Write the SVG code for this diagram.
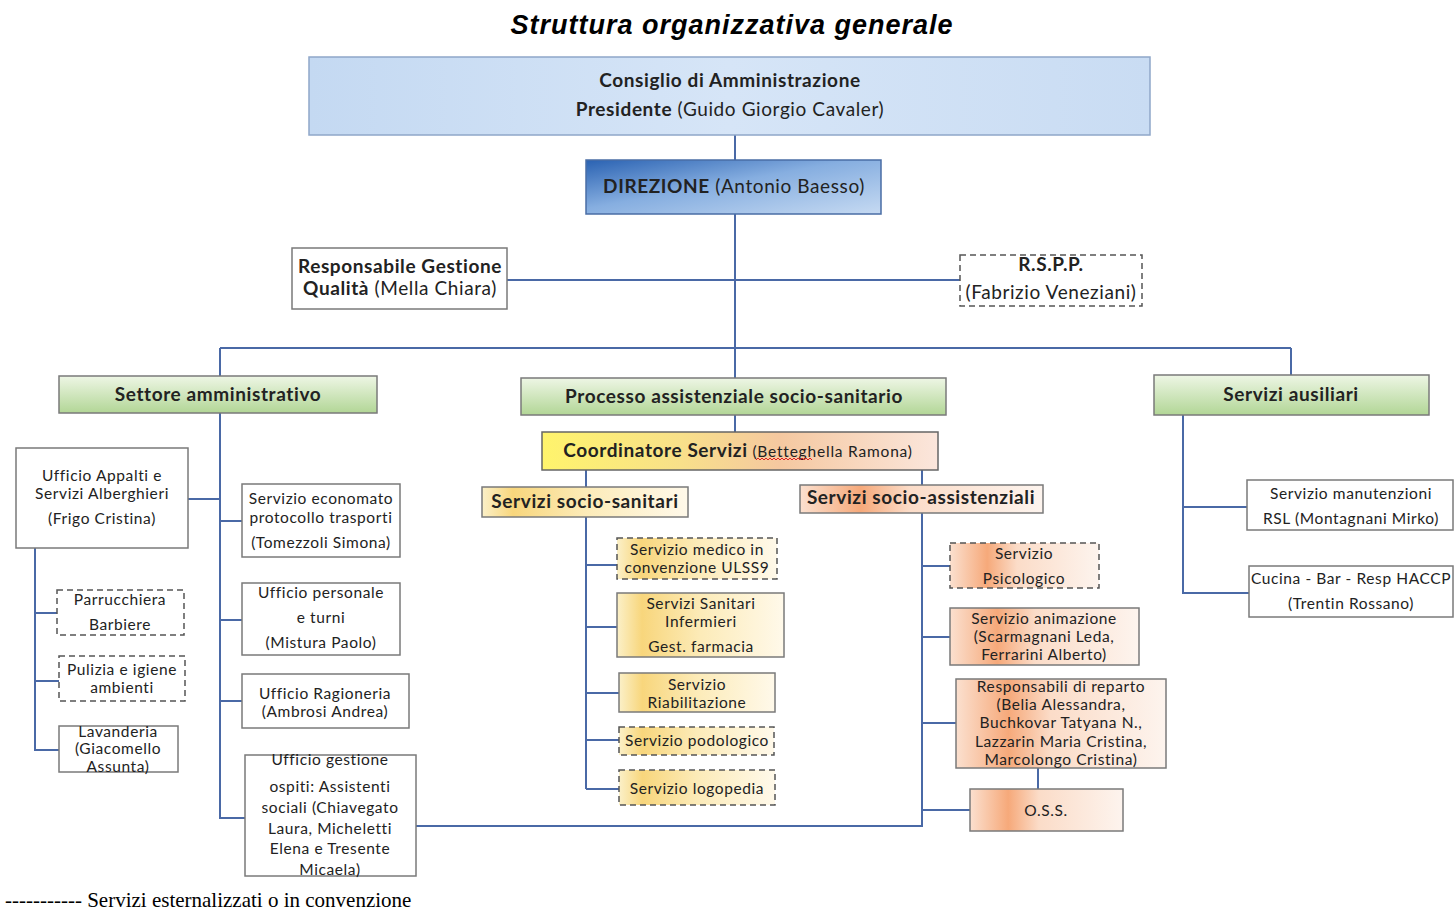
<svg xmlns="http://www.w3.org/2000/svg" width="1454" height="913" viewBox="0 0 1454 913">
<defs>
<linearGradient id="gCons" x1="0" y1="0" x2="1" y2="0"><stop offset="0" stop-color="#c4d9f2"/><stop offset="0.5" stop-color="#d6e5f7"/><stop offset="1" stop-color="#c9dcf3"/></linearGradient>
<linearGradient id="gDir" x1="0" y1="0" x2="1" y2="1"><stop offset="0" stop-color="#2a62b2"/><stop offset="0.45" stop-color="#86aee0"/><stop offset="1" stop-color="#c6daf2"/></linearGradient>
<linearGradient id="gGreen" x1="0" y1="0" x2="0" y2="1"><stop offset="0" stop-color="#eef6e5"/><stop offset="1" stop-color="#b2d696"/></linearGradient>
<linearGradient id="gCoord" x1="0" y1="0" x2="1" y2="0"><stop offset="0" stop-color="#fff46c"/><stop offset="0.35" stop-color="#f8e08a"/><stop offset="0.6" stop-color="#f5c8a0"/><stop offset="1" stop-color="#fbe6dc"/></linearGradient>
<linearGradient id="gYel" x1="0" y1="0" x2="1" y2="0"><stop offset="0" stop-color="#fbf0c8"/><stop offset="0.15" stop-color="#f8d67c"/><stop offset="0.5" stop-color="#fcebb8"/><stop offset="1" stop-color="#fff9ea"/></linearGradient>
<linearGradient id="gOra" x1="0" y1="0" x2="1" y2="0"><stop offset="0" stop-color="#fbe0cf"/><stop offset="0.25" stop-color="#f6a97a"/><stop offset="0.45" stop-color="#fbdcc8"/><stop offset="1" stop-color="#fdf4ee"/></linearGradient>
</defs>
<style>
.t{font-family:Lato,"Liberation Sans",sans-serif;fill:#222;text-anchor:middle}
.h{font-size:19px;font-weight:bold;letter-spacing:0.6px}
.n{font-size:19px;letter-spacing:0.6px}
.s{font-size:15.5px;letter-spacing:0.6px}
.b{font-weight:bold}
.box{stroke:#7a7a7a;stroke-width:1.5;fill:#fff}
.dash{stroke:#555;stroke-width:1.5;stroke-dasharray:6 4}
.c{stroke:#4a69a6;stroke-width:2;fill:none}
</style>
<rect width="1454" height="913" fill="#fff"/>
<text x="732" y="34" font-family="Liberation Sans,sans-serif" font-size="27" font-weight="bold" font-style="italic" letter-spacing="1" text-anchor="middle" fill="#000">Struttura organizzativa generale</text>

<g id="connectors">
<path class="c" d="M735 135V160M735 214V378M507 280H960M220 348H1291M220 348V376M1291 348V375M735 415V432"/>
<path class="c" d="M586 470V789M586 565H617M586 627H617M586 693H619M586 740H619M586 789H619"/>
<path class="c" d="M922 470V826H416M922 566H950M922 637H950M922 723H956M922 810H970M1038 768V789"/>
<path class="c" d="M1183 415V593H1249M1183 507H1247"/>
<path class="c" d="M220 413V818H245M188 499H220M220 521H242M220 620H242M220 701H242"/>
<path class="c" d="M35 548V750H59M35 613H57M35 681H59"/>
</g>

<g id="consiglio"><rect x="309" y="57" width="841" height="78" fill="url(#gCons)" stroke="#8fa7c9" stroke-width="1.5"/>
<text class="t h" x="730" y="87">Consiglio di Amministrazione</text>
<text class="t n" x="730" y="116"><tspan class="b">Presidente</tspan> (Guido Giorgio Cavaler)</text></g>

<g id="direzione"><rect x="586" y="160" width="295" height="54" fill="url(#gDir)" stroke="#4a6da5" stroke-width="1.5"/>
<text class="t n" x="734" y="193" letter-spacing="0.2"><tspan class="b">DIREZIONE</tspan> (Antonio Baesso)</text></g>

<g id="qualita"><rect class="box" x="292" y="248" width="215" height="61"/>
<text class="t h" x="400" y="273">Responsabile Gestione</text>
<text class="t n" x="400" y="295"><tspan class="b">Qualità</tspan> (Mella Chiara)</text></g>

<g id="rspp"><rect class="box dash" x="960" y="255" width="182" height="51"/>
<text class="t h" x="1051" y="271">R.S.P.P.</text>
<text class="t n" x="1051" y="299">(Fabrizio Veneziani)</text></g>

<g id="settore"><rect x="59" y="376" width="318" height="37" fill="url(#gGreen)" stroke="#7a7a7a" stroke-width="1.5"/>
<text class="t h" x="218" y="401">Settore amministrativo</text></g>
<g id="processo"><rect x="521" y="378" width="425" height="37" fill="url(#gGreen)" stroke="#7a7a7a" stroke-width="1.5"/>
<text class="t h" x="734" y="403">Processo assistenziale socio-sanitario</text></g>
<g id="ausiliari"><rect x="1154" y="375" width="275" height="40" fill="url(#gGreen)" stroke="#7a7a7a" stroke-width="1.5"/>
<text class="t h" x="1291" y="401">Servizi ausiliari</text></g>

<g id="coordinatore"><rect x="542" y="432" width="396" height="38" fill="url(#gCoord)" stroke="#666" stroke-width="1.5"/>
<text class="t" x="738" y="457"><tspan class="h">Coordinatore Servizi</tspan><tspan font-size="15.5" letter-spacing="0.8"> (Betteghella Ramona)</tspan></text>
<path d="M756 460l2-2 2 2 2-2 2 2 2-2 2 2 2-2 2 2 2-2 2 2 2-2 2 2 2-2 2 2 2-2 2 2 2-2 2 2 2-2 2 2 2-2 2 2 2-2 2 2 2-2 2 2 2-2 2 2" stroke="#e02020" stroke-width="1" fill="none"/></g>

<g id="sociosanitari"><rect x="482" y="487" width="206" height="30" fill="url(#gYel)" stroke="#7a7a7a" stroke-width="1.5"/>
<text class="t h" x="585" y="508">Servizi  socio-sanitari</text></g>
<g id="medico"><rect class="dash" x="617" y="538" width="160" height="41" fill="url(#gYel)"/>
<text class="t s" x="697" y="555">Servizio medico in</text><text class="t s" x="697" y="573">convenzione ULSS9</text></g>
<g id="infermieri"><rect x="617" y="593" width="167" height="64" fill="url(#gYel)" stroke="#7a7a7a" stroke-width="1.5"/>
<text class="t s" x="701" y="609">Servizi Sanitari</text><text class="t s" x="701" y="627">Infermieri</text><text class="t s" x="701" y="652">Gest. farmacia</text></g>
<g id="riabilitazione"><rect x="619" y="673" width="156" height="39" fill="url(#gYel)" stroke="#7a7a7a" stroke-width="1.5"/>
<text class="t s" x="697" y="690">Servizio</text><text class="t s" x="697" y="708">Riabilitazione</text></g>
<g id="podologico"><rect class="dash" x="619" y="727" width="155" height="28" fill="url(#gYel)"/>
<text class="t s" x="697" y="746">Servizio podologico</text></g>
<g id="logopedia"><rect class="dash" x="619" y="770" width="156" height="35" fill="url(#gYel)"/>
<text class="t s" x="697" y="794">Servizio logopedia</text></g>

<g id="socioassistenziali"><rect x="800" y="485" width="243" height="28" fill="url(#gOra)" stroke="#7a7a7a" stroke-width="1.5"/>
<text class="t h" x="921" y="504">Servizi socio-assistenziali</text></g>
<g id="psicologico"><rect class="dash" x="950" y="543" width="149" height="45" fill="url(#gOra)"/>
<text class="t s" x="1024" y="559">Servizio</text><text class="t s" x="1024" y="584">Psicologico</text></g>
<g id="animazione"><rect x="950" y="608" width="189" height="57" fill="url(#gOra)" stroke="#7a7a7a" stroke-width="1.5"/>
<text class="t s" x="1044" y="624">Servizio animazione</text><text class="t s" x="1044" y="642">(Scarmagnani Leda,</text><text class="t s" x="1044" y="660">Ferrarini Alberto)</text></g>
<g id="reparto"><rect x="956" y="679" width="210" height="89" fill="url(#gOra)" stroke="#7a7a7a" stroke-width="1.5"/>
<text class="t s" x="1061" y="692">Responsabili di reparto</text><text class="t s" x="1061" y="710">(Belia Alessandra,</text><text class="t s" x="1061" y="728">Buchkovar Tatyana N.,</text><text class="t s" x="1061" y="747">Lazzarin Maria Cristina,</text><text class="t s" x="1061" y="765">Marcolongo Cristina)</text></g>
<g id="oss"><rect x="970" y="789" width="153" height="42" fill="url(#gOra)" stroke="#7a7a7a" stroke-width="1.5"/>
<text class="t s" x="1046" y="816">O.S.S.</text></g>

<g id="manutenzioni"><rect class="box" x="1247" y="480" width="206" height="50"/>
<text class="t s" x="1351" y="499">Servizio manutenzioni</text><text class="t s" x="1351" y="524">RSL (Montagnani Mirko)</text></g>
<g id="cucina"><rect class="box" x="1249" y="566" width="204" height="51"/>
<text class="t s" x="1351" y="584" letter-spacing="0.3">Cucina - Bar - Resp HACCP</text><text class="t s" x="1351" y="609">(Trentin Rossano)</text></g>

<g id="appalti"><rect class="box" x="16" y="448" width="172" height="100"/>
<text class="t s" x="102" y="481">Ufficio Appalti e</text><text class="t s" x="102" y="499">Servizi Alberghieri</text><text class="t s" x="102" y="524">(Frigo Cristina)</text></g>
<g id="parrucchiera"><rect class="box dash" x="57" y="590" width="127" height="45"/>
<text class="t s" x="120" y="605">Parrucchiera</text><text class="t s" x="120" y="630">Barbiere</text></g>
<g id="pulizia"><rect class="box dash" x="59" y="656" width="126" height="45"/>
<text class="t s" x="122" y="675">Pulizia e igiene</text><text class="t s" x="122" y="693">ambienti</text></g>
<g id="lavanderia"><rect class="box" x="59" y="726" width="119" height="46"/>
<text class="t s" x="118" y="737">Lavanderia</text><text class="t s" x="118" y="754">(Giacomello</text><text class="t s" x="118" y="772">Assunta)</text></g>

<g id="economato"><rect class="box" x="242" y="484" width="158" height="73"/>
<text class="t s" x="321" y="504">Servizio economato</text><text class="t s" x="321" y="523">protocollo trasporti</text><text class="t s" x="321" y="548">(Tomezzoli Simona)</text></g>
<g id="personale"><rect class="box" x="242" y="583" width="158" height="72"/>
<text class="t s" x="321" y="598">Ufficio personale</text><text class="t s" x="321" y="623">e turni</text><text class="t s" x="321" y="648">(Mistura Paolo)</text></g>
<g id="ragioneria"><rect class="box" x="242" y="674" width="167" height="54"/>
<text class="t s" x="325" y="699">Ufficio Ragioneria</text><text class="t s" x="325" y="717">(Ambrosi Andrea)</text></g>
<g id="ospiti"><rect class="box" x="245" y="755" width="171" height="121"/>
<text class="t s" x="330" y="765">Ufficio gestione</text><text class="t s" x="330" y="792">ospiti: Assistenti</text><text class="t s" x="330" y="813">sociali (Chiavegato</text><text class="t s" x="330" y="834">Laura, Micheletti</text><text class="t s" x="330" y="854">Elena e Tresente</text><text class="t s" x="330" y="875">Micaela)</text></g>

<text x="5" y="907" font-family="Liberation Serif,serif" font-size="21" fill="#000">----------- Servizi esternalizzati o in convenzione</text>
</svg>
